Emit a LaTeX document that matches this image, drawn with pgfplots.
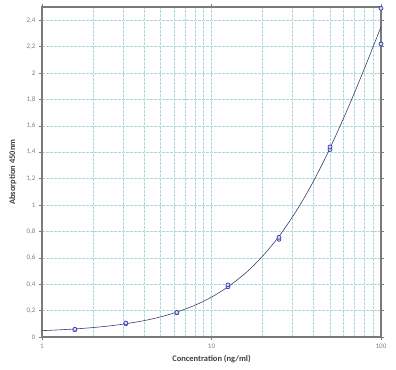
\documentclass[border=0pt]{standalone}
\usepackage{pgfplots}
\pgfplotsset{compat=1.18}
\usepackage{fontspec}
\setmainfont{Carlito}
\definecolor{gridc}{HTML}{A8D8DA}
\definecolor{framec}{HTML}{7A7A7A}
\definecolor{markc}{HTML}{3A3AB0}
\definecolor{curvec}{HTML}{3C3C70}
\definecolor{labc}{HTML}{404040}
\begin{document}
\begin{tikzpicture}
\begin{axis}[
  xmode=log,
  scale only axis,
  width=339bp, height=330bp,
  xmin=1, xmax=100, ymin=0, ymax=2.5,
  log basis x=10,
  xtick={1,10,100}, xticklabels={1,10,100},
  minor xtick={2,3,4,5,6,7,8,9,20,30,40,50,60,70,80,90},
  ytick={0,0.2,...,2.41},
  yticklabel style={/pgf/number format/.cd,use comma,fixed,precision=1},
  /pgf/number format/assume math mode=true,
  tick label style={font=\fontsize{7}{8}\selectfont, text=gray},
  tick align=outside,
  major tick length=3bp,
  minor tick length=0pt,
  every tick/.style={framec, line width=0.6pt},
  grid=both,
  every major grid/.style={gridc, dash pattern=on 3bp off 1bp, line width=0.55pt},
  every minor grid/.style={gridc, dash pattern=on 3bp off 1bp, line width=0.55pt},
  axis line style={framec, line width=1.2pt},
  xlabel={\textbf{Concentration (ng/ml)}},
  ylabel={\textbf{Absorption 450nm}},
  label style={font=\fontsize{8.5}{10}\selectfont, text=labc},
  xlabel style={at={(axis description cs:0.5,0)}, anchor=north, yshift=-15bp},
  ylabel style={at={(axis description cs:0,0.5)}, anchor=south, yshift=22bp},
  clip=false,
]
\addplot[curvec, line width=0.6pt, smooth] coordinates {
 (1,0.048) (1.25,0.054) (1.5625,0.061) (2,0.0715) (2.5,0.084) (3.125,0.1005)
 (4,0.124) (5,0.152) (6.25,0.189) (8,0.241) (10,0.302) (12.5,0.380)
 (16,0.488) (20,0.612) (25,0.762) (32,0.965) (40,1.181) (50,1.43)
 (64,1.737) (80,2.037) (100,2.35)
};
\addplot[only marks, mark=*, mark size=2pt, mark options={draw=markc, fill=markc!20, line width=0.7pt}] coordinates {
 (1.5625,0.055) (1.5625,0.058) (3.125,0.10) (3.125,0.106) (6.25,0.183) (6.25,0.186)
 (12.5,0.38) (12.5,0.395) (25,0.74) (25,0.755) (50,1.42) (50,1.44)
 (100,2.22) (100,2.49)
};
\end{axis}
\path (current axis.south west) ++(-42bp,-33bp) coordinate (bbsw);
\path (current axis.north east) ++(15bp,7bp) coordinate (bbne);
\useasboundingbox (bbsw) rectangle (bbne);
\end{tikzpicture}
\end{document}
